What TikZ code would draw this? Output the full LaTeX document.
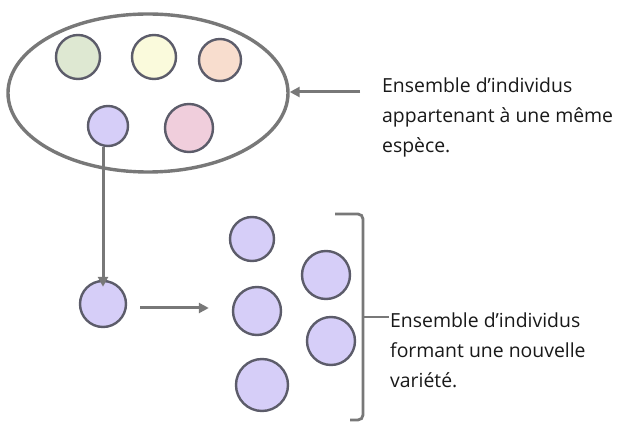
\documentclass[tikz,border=0pt]{standalone}
\usepackage{fontspec}
\setmainfont{Open Sans}
\usetikzlibrary{arrows.meta,calc,shapes.geometric}
\definecolor{linegray}{HTML}{787878}
\definecolor{rimgray}{HTML}{5C5C6A}
\definecolor{fgreen}{HTML}{DEE8D2}
\definecolor{fyellow}{HTML}{FAFADC}
\definecolor{fpeach}{HTML}{F8DDCE}
\definecolor{fviolet}{HTML}{D6CEF8}
\definecolor{fpink}{HTML}{F0CEDC}
\tikzset{
  indiv/.style={circle,draw=rimgray,line width=2.4pt,inner sep=0pt},
  arr/.style={draw=linegray,line width=3pt,-{Triangle[length=10pt,width=10pt]}},
  brace/.style={draw=linegray,line width=2.8pt,rounded corners=5pt},
  lbl/.style={align=left,anchor=west,font=\fontsize{19.4}{30}\selectfont,text=black!90,inner sep=0pt}
}
\begin{document}
\begin{tikzpicture}[x=1pt,y=-1pt]
\useasboundingbox (0,0) rectangle (622,422);
\fill[white] (0,0) rectangle (622,422);

% the species
\node[ellipse,draw=linegray,line width=3.4pt,minimum width=280pt,minimum height=158pt,inner sep=0pt] (pop) at (148,93) {};
\node[indiv,fill=fgreen,minimum size=44pt] (g) at (78,57) {};
\node[indiv,fill=fyellow,minimum size=44pt] (y) at (154,57) {};
\node[indiv,fill=fpeach,minimum size=42pt] (o) at (220,60) {};
\node[indiv,fill=fviolet,minimum size=40pt] (p) at (108,126) {};
\node[indiv,fill=fpink,minimum size=48pt] (k) at (189,128) {};

\node[lbl] (t1) at (382,117) {Ensemble d’individus\\appartenant à une même\\espèce.};
\coordinate (t1a) at (360,92);
\draw[arr] (t1a) -- (pop.east |- t1a);

% the isolated individual
\node[indiv,fill=fviolet,minimum size=46pt] (b) at (103,304) {};
\draw[arr] (b |- p.south) -- ($(b.north)+(0,7)$);

% the new variety
\node[indiv,fill=fviolet,minimum size=44pt] (c1) at (252,239) {};
\node[indiv,fill=fviolet,minimum size=48pt] (c2) at (257,311) {};
\node[indiv,fill=fviolet,minimum size=52pt] (c3) at (262,385) {};
\node[indiv,fill=fviolet,minimum size=48pt] (c4) at (326,275) {};
\node[indiv,fill=fviolet,minimum size=48pt] (c5) at (331,341) {};
\draw[arr,shorten <=13pt,shorten >=23pt] ([yshift=-4pt]b.east) -- ([yshift=3pt]c2.west);

\coordinate (bt) at (335,214);
\coordinate (bb) at (350,420);
\coordinate (tip) at (389,317);
\node[lbl] (t2) at (390,350) {Ensemble d’individus\\formant une nouvelle\\variété.};
\draw[brace] (bt) -- (363,214) -- (363,420) -- (bb);
\draw[brace] (363,317) -- (tip);
\end{tikzpicture}
\end{document}
